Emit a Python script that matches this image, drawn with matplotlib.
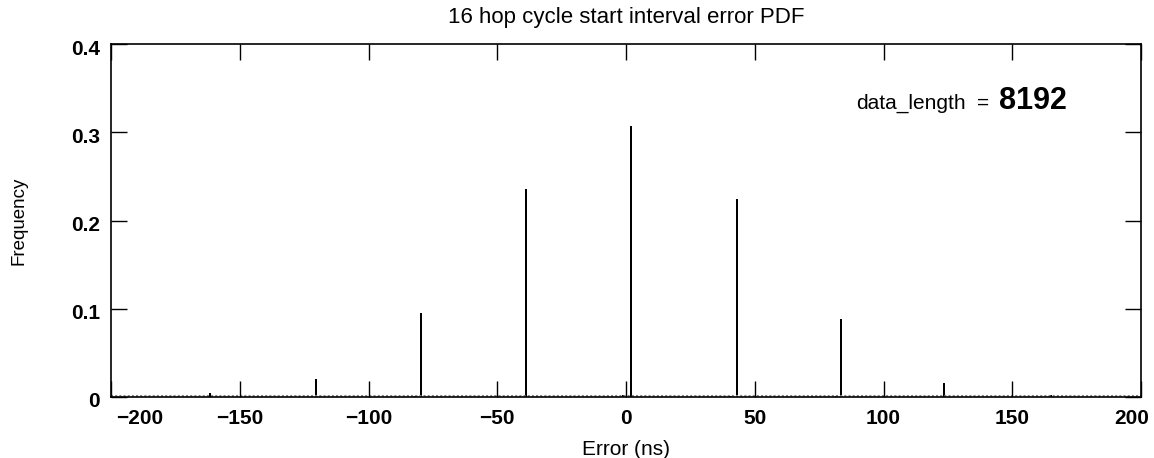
import matplotlib
matplotlib.use("Agg")
import matplotlib.pyplot as plt
import matplotlib.transforms as mtransforms
from matplotlib.ticker import FuncFormatter

plt.rcParams['font.family'] = ['Liberation Sans', 'DejaVu Sans']

# main histogram bins (error in ns) and frequencies
main_x = [-161.5, -120.4, -79.6, -39.0, 1.9, 43.0, 83.4, 123.4, 165.0]
main_y = [0.004, 0.020, 0.0948, 0.2353, 0.307, 0.2244, 0.088, 0.0155, 0.002]
# small side bins
side_x = [-81.9, -41.0, -1.3, 40.5, 81.5]
side_y = [0.0015, 0.0012, 0.0025, 0.0008, 0.0012]

xticks = [-200, -150, -100, -50, 0, 50, 100, 150, 200]
yticks = [0, 0.1, 0.2, 0.3, 0.4]
data_length = 8192

fig = plt.figure(figsize=(11.54, 4.58), dpi=100)
ax = fig.add_axes([0.0962, 0.1332, 0.8926, 0.7707])

ax.bar(main_x, main_y, width=0.8, color='black', linewidth=0)
ax.bar(side_x, side_y, width=0.8, color='black', linewidth=0)
ax.axhline(0.0008, color='#888888', linewidth=1.5, linestyle=(0, (1, 1)), zorder=1)

ax.set_xlim(-200, 200)
ax.set_ylim(0, 0.4)
ax.set_xticks(xticks)
ax.set_yticks(yticks)
ax.xaxis.set_major_formatter(FuncFormatter(lambda v, p: f"{int(v)}".replace('-', '\u2212')))
ax.yaxis.set_major_formatter(FuncFormatter(lambda v, p: "0" if abs(v) < 1e-9 else f"{v:.1f}"))
ax.tick_params(direction='in', length=11.5, width=1, top=True, right=True,
               labelsize=15)
ax.tick_params(axis='x', pad=9)
ax.tick_params(axis='y', pad=8)
for lab in ax.get_xticklabels() + ax.get_yticklabels():
    lab.set_fontweight('bold')
for s in ax.spines.values():
    s.set_linewidth(1.2)

# keep the outermost x tick labels inside the frame, as in the reference
xlabs = ax.get_xticklabels()
xlabs[0].set_horizontalalignment('left')
xlabs[0].set_transform(xlabs[0].get_transform() +
                       mtransforms.ScaledTranslation(5 / 100, 0, fig.dpi_scale_trans))
xlabs[-1].set_horizontalalignment('right')
xlabs[-1].set_transform(xlabs[-1].get_transform() +
                        mtransforms.ScaledTranslation(8 / 100, 0, fig.dpi_scale_trans))
# y tick labels sit slightly below their ticks in the reference
for lab in ax.get_yticklabels():
    lab.set_transform(lab.get_transform() +
                      mtransforms.ScaledTranslation(0, -3 / 100, fig.dpi_scale_trans))

ax.set_title("16 hop cycle start interval error PDF", fontsize=16, pad=15)
ax.set_xlabel("Error (ns)", fontsize=15, labelpad=8)
ax.set_ylabel("Frequency", fontsize=13.5, labelpad=31)

ax.text(89.5, 0.333, "data_length", fontsize=15, va='center', ha='left')
ax.text(136.3, 0.333, "=", fontsize=15, va='center', ha='left')
ax.text(144.9, 0.335, f"{data_length}", fontsize=22, fontweight='bold', va='center', ha='left')

fig.savefig("out.png", dpi=100)
